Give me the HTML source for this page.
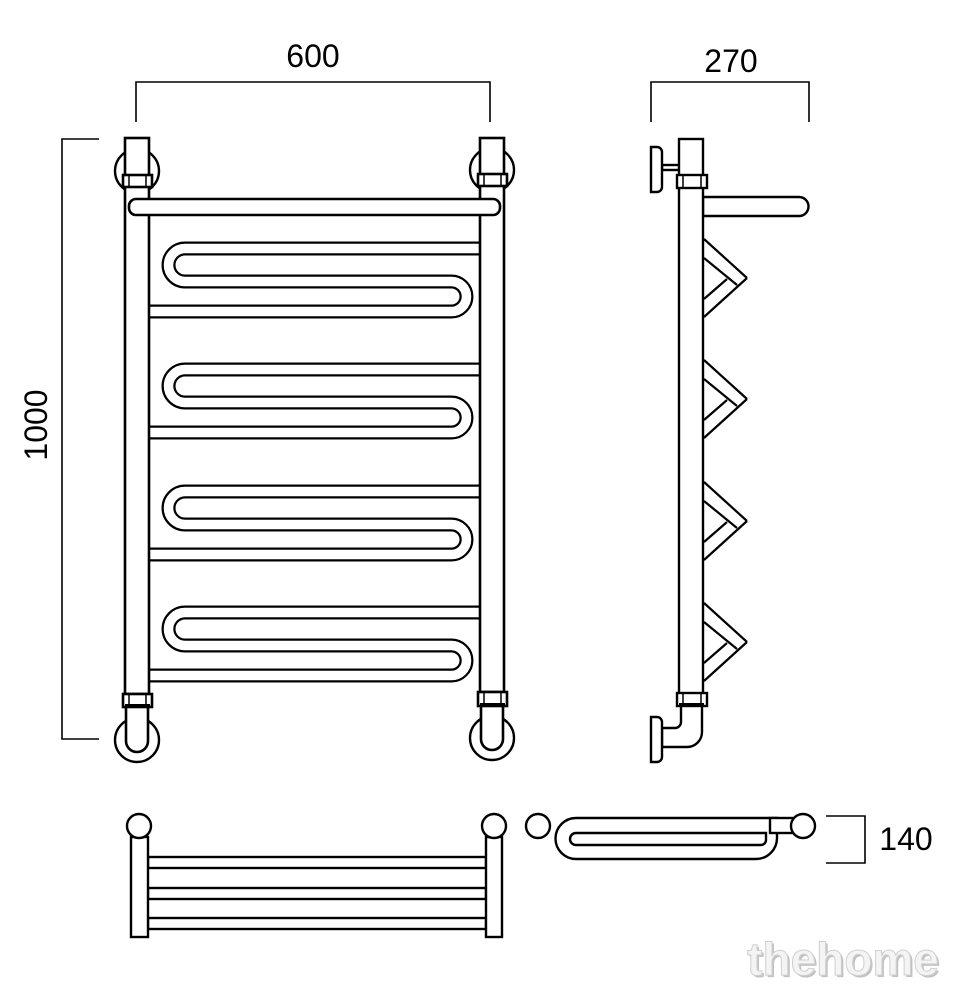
<!DOCTYPE html>
<html><head><meta charset="utf-8"><style>
html,body{margin:0;padding:0;background:#fff;}
svg{display:block;}
text{font-family:"Liberation Sans",Arial,sans-serif;}
</style></head><body>
<svg width="962" height="1000" viewBox="0 0 962 1000" xmlns="http://www.w3.org/2000/svg">
<defs>
<g id="serp">
  <path d="M 480 248.5 H 185 A 16.5 16.5 0 0 0 185 281.5 H 451.5 A 15 15 0 0 1 451.5 311.5 H 149" fill="none" stroke="#000" stroke-width="14"/>
  <path d="M 482 248.5 H 185 A 16.5 16.5 0 0 0 185 281.5 H 451.5 A 15 15 0 0 1 451.5 311.5 H 147" fill="none" stroke="#fff" stroke-width="9.5"/>
</g>
<g id="zig" stroke="#000" stroke-width="2.2" fill="none">
  <line x1="704" y1="239" x2="747" y2="278"/>
  <line x1="747" y1="278" x2="704" y2="317"/>
  <line x1="704" y1="258" x2="737" y2="285"/>
  <line x1="704" y1="299" x2="727" y2="279"/>
</g>
</defs>
<rect width="962" height="1000" fill="#fff"/>

<!-- dimension 600 -->
<g stroke="#000" stroke-width="1.6" fill="none">
  <polyline points="136,122 136,82 490,82 490,122"/>
  <polyline points="99,139 62,139 62,739 99,739"/>
  <polyline points="651,122 651,82 809,82 809,122"/>
  <polyline points="826,816 865,816 865,863 826,863"/>
</g>
<text x="313" y="67" font-size="32" text-anchor="middle">600</text>
<text x="731" y="72" font-size="32" text-anchor="middle">270</text>
<text x="906" y="850" font-size="32" text-anchor="middle">140</text>
<text transform="translate(47,425) rotate(-90)" font-size="32" text-anchor="middle">1000</text>

<!-- FRONT VIEW -->
<g stroke="#000" stroke-width="2.4" fill="#fff">
  <circle cx="137" cy="171" r="22"/>
  <circle cx="492" cy="170" r="22"/>
  <circle cx="137" cy="740" r="22"/>
  <circle cx="492" cy="738" r="22"/>
</g>
<use href="#serp"/>
<use href="#serp" y="121"/>
<use href="#serp" y="243"/>
<use href="#serp" y="364"/>
<g stroke="#000" stroke-width="2.6" fill="#fff">
  <rect x="125" y="138" width="24" height="556"/>
  <rect x="480" y="138" width="24" height="554"/>
  <path d="M126 707 V741 A11 11 0 0 0 148 741 V707"/>
  <path d="M481 706 V739 A11 11 0 0 0 503 739 V706"/>
  <rect x="123" y="175" width="29" height="12"/>
  <rect x="478" y="174" width="29" height="12"/>
  <rect x="123" y="694" width="29" height="13"/>
  <rect x="478" y="692" width="29" height="14"/>
  <rect x="129" y="199" width="371" height="16" rx="7"/>
</g>
<g stroke="#000" stroke-width="1.5">
  <line x1="129" y1="175" x2="129" y2="187"/><line x1="146" y1="175" x2="146" y2="187"/>
  <line x1="484" y1="174" x2="484" y2="186"/><line x1="501" y1="174" x2="501" y2="186"/>
  <line x1="129" y1="694" x2="129" y2="707"/><line x1="146" y1="694" x2="146" y2="707"/>
  <line x1="484" y1="692" x2="484" y2="706"/><line x1="501" y1="692" x2="501" y2="706"/>
</g>
<rect x="125" y="704" width="25" height="4" fill="#000"/>
<rect x="480" y="703" width="25" height="4" fill="#000"/>

<!-- SIDE VIEW -->
<use href="#zig"/>
<use href="#zig" y="121"/>
<use href="#zig" y="243"/>
<use href="#zig" y="364"/>
<g stroke="#000" stroke-width="2.4" fill="#fff">
  <path d="M703 197 H799 A9.5 9.5 0 0 1 799 216 H703 Z"/>
  <rect x="662" y="165" width="18" height="5"/>
  <path d="M651 147 H657 A5 5 0 0 1 662 152 V187 A5 5 0 0 1 657 192 H651 Z"/>
  <rect x="679" y="139" width="24" height="555"/>
  <rect x="677" y="175" width="30" height="13"/>
  <path d="M702 707 V732 A15 15 0 0 1 687 747 H662 V728 H675 A6 6 0 0 0 681 722 V707"/>
  <path d="M651 717 H657 A5 5 0 0 1 662 722 V757 A5 5 0 0 1 657 762 H651 Z"/>
  <rect x="677" y="693" width="30" height="13"/>
</g>
<g stroke="#000" stroke-width="1.5">
  <line x1="683" y1="175" x2="683" y2="188"/><line x1="701" y1="175" x2="701" y2="188"/>
  <line x1="683" y1="693" x2="683" y2="706"/><line x1="701" y1="693" x2="701" y2="706"/>
</g>
<rect x="679" y="703" width="25" height="4" fill="#000"/>

<!-- BOTTOM FRONT VIEW -->
<g stroke="#000" stroke-width="2.4" fill="#fff">
  <rect x="148" y="857" width="338" height="11"/>
  <rect x="148" y="888" width="338" height="11"/>
  <rect x="148" y="918" width="338" height="11"/>
  <rect x="131" y="837" width="17" height="100"/>
  <rect x="486" y="837" width="16" height="100"/>
  <circle cx="139" cy="826" r="12"/>
  <circle cx="494" cy="826" r="12"/>
</g>

<!-- BOTTOM SIDE VIEW -->
<g stroke="#000" stroke-width="2.4" fill="#fff">
  <circle cx="538" cy="826" r="12"/>
  <path d="M576 818 H777 V838 A21 21 0 0 1 756 859 H576 A20.5 20.5 0 0 1 576 818 Z"/>
  <path d="M576 833 H766 V840 A5 5 0 0 1 761 845 H576 A6 6 0 0 1 576 833 Z"/>
  <rect x="770" y="818" width="24" height="15"/>
  <circle cx="803" cy="826" r="12"/>
</g>

<!-- watermark -->
<text x="843" y="975" font-size="46" font-weight="bold" text-anchor="middle" fill="#9a9a9a" opacity="0.6" transform="translate(2,2)">thehome</text>
<text x="843" y="975" font-size="46" font-weight="bold" text-anchor="middle" fill="#f4f4f4" stroke="#d0d0d0" stroke-width="1">thehome</text>
</svg>
</body></html>
